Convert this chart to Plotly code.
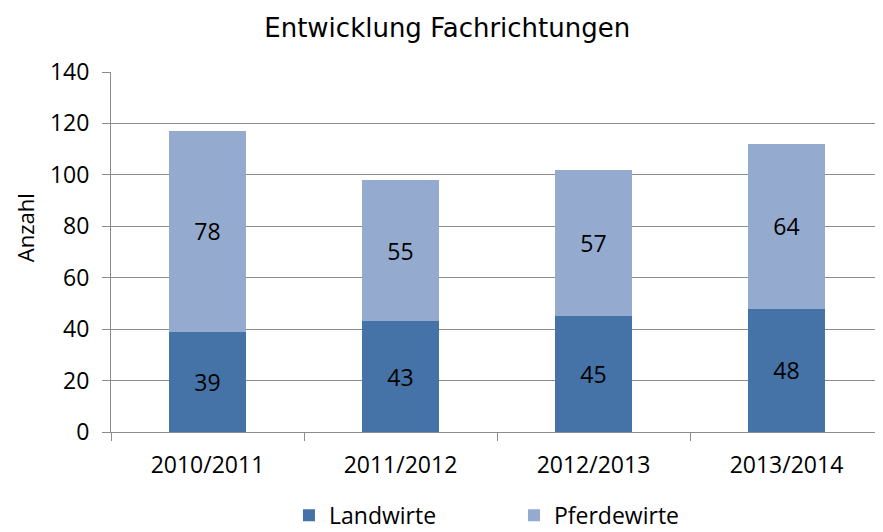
import plotly.graph_objects as go

# Daten
jahre = ['2010/2011', '2011/2012', '2012/2013', '2013/2014']
landwirte = [39, 43, 45, 48]
pferdewirte = [78, 55, 57, 64]

# Seite hat 8px Rand -> Figur etwas kleiner
fig = go.Figure()

fig.add_trace(go.Bar(
    x=jahre,
    y=landwirte,
    name='Landwirte',
    marker=dict(color='#4573a7', line=dict(width=0)),
    text=landwirte,
    textposition='inside',
    insidetextanchor='middle',
    textfont=dict(color='black', size=23, family='Open Sans'),
    width=0.4
))
fig.add_trace(go.Bar(
    x=jahre,
    y=pferdewirte,
    name='Pferdewirte',
    marker=dict(color='#95aacf', line=dict(width=0)),
    text=pferdewirte,
    textposition='inside',
    insidetextanchor='middle',
    textfont=dict(color='black', size=23, family='Open Sans'),
    width=0.4
))

fig.update_layout(
    barmode='stack',
    width=875,
    height=524,
    margin=dict(l=103, r=0, t=64, b=100),
    paper_bgcolor='white',
    plot_bgcolor='white',
    font=dict(family='Open Sans', color='black'),
    title=dict(
        text='Entwicklung Fachrichtungen',
        x=0.502, xanchor='center',
        y=0.962, yanchor='middle',
        font=dict(family='DejaVu Sans', size=26, color='black')
    ),
    legend=dict(
        orientation='h',
        x=0.522, xanchor='center',
        yref='container',
        y=0.032, yanchor='middle',
        font=dict(size=23),
        entrywidth=180,
        traceorder='normal'
    ),
    uniformtext=dict(mode=False)
)

# Achsentitel etwas oberhalb der Mitte, wie im Original
fig.add_annotation(
    text='Anzahl',
    textangle=-90,
    xref='paper', yref='paper',
    x=-0.111, y=0.567,
    xanchor='center', yanchor='middle',
    showarrow=False,
    font=dict(size=22, color='black')
)

fig.update_yaxes(
    range=[0, 140],
    dtick=20,
    showgrid=True,
    gridcolor='#8c8c8c',
    gridwidth=1,
    showline=True,
    linecolor='#8c8c8c',
    linewidth=1,
    ticks='outside',
    ticklen=8,
    tickcolor='#8c8c8c',
    tickfont=dict(size=23),
    ticklabelstandoff=8,
    zeroline=False
)
fig.update_xaxes(
    showline=True,
    linecolor='#8c8c8c',
    linewidth=1,
    ticks='outside',
    tickson='boundaries',
    ticklen=8,
    tickcolor='#8c8c8c',
    tickfont=dict(size=23),
    ticklabelstandoff=12,
    showgrid=False
)

fig.write_html("out.html")
